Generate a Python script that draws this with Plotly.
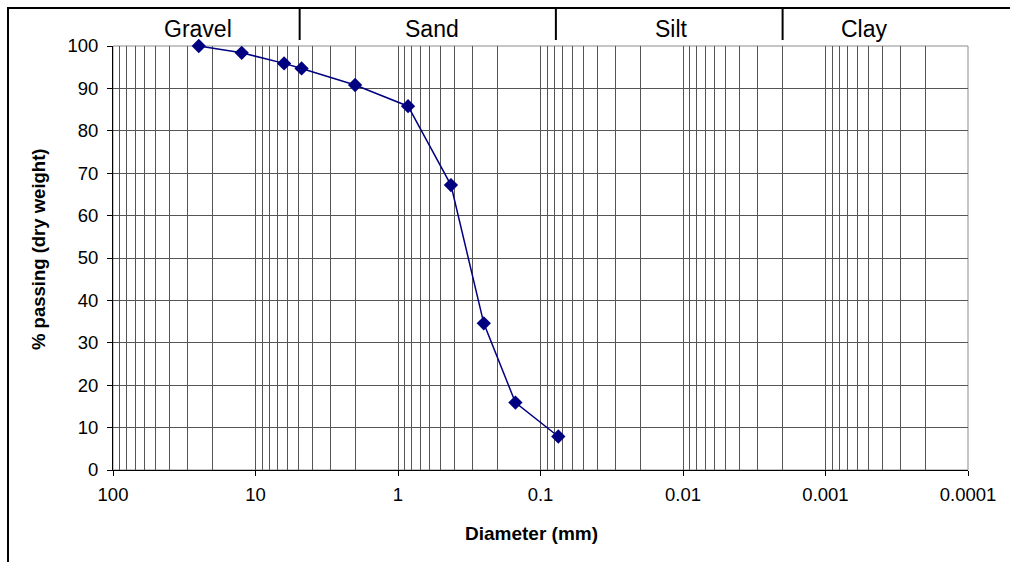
import math
import plotly.graph_objects as go

# ---- data ----
diameter_mm = [25, 12.5, 6.3, 4.75, 2.0, 0.85, 0.425, 0.25, 0.15, 0.075]
percent_passing = [100, 98.4, 95.9, 94.7, 90.8, 85.8, 67.2, 34.6, 15.9, 7.9]
x_tick_vals = [100, 10, 1, 0.1, 0.01, 0.001, 0.0001]
x_tick_text = ["100", "10", "1", "0.1", "0.01", "0.001", "0.0001"]
y_tick_vals = [0, 10, 20, 30, 40, 50, 60, 70, 80, 90, 100]
soil_classes = ["Gravel", "Sand", "Silt", "Clay"]
class_boundaries_mm = [4.9, 0.078, 0.002]

# ---- layout geometry (pixels) ----
W, H = 1010, 562
L, R, T, B = 113, 968, 46, 470
FONT = "Liberation Sans, Arial, sans-serif"
X_MAX, X_MIN = 100, 0.0001


def px_x(p):
    return (p - L) / (R - L)


def px_y(p):
    return (B - p) / (B - T)


def data_to_paper_x(d):
    return (math.log10(X_MAX) - math.log10(d)) / (math.log10(X_MAX) - math.log10(X_MIN))


fig = go.Figure()
fig.add_trace(go.Scatter(
    x=diameter_mm, y=percent_passing, mode="lines+markers",
    line=dict(color="#000080", width=1.5),
    marker=dict(symbol="diamond", size=11, color="#000080"),
    showlegend=False, cliponaxis=False,
))

shapes = []
# plot-area border (grey top/right)
shapes.append(dict(type="rect", xref="paper", yref="paper", x0=0, x1=1, y0=0, y1=1,
                   line=dict(color="#8c8c8c", width=1), layer="below"))
# outer frame: top and left lines
shapes.append(dict(type="line", xref="paper", yref="paper",
                   x0=px_x(8), x1=px_x(1012), y0=px_y(8), y1=px_y(8),
                   line=dict(color="black", width=2)))
shapes.append(dict(type="line", xref="paper", yref="paper",
                   x0=px_x(8), x1=px_x(8), y0=px_y(7), y1=px_y(564),
                   line=dict(color="black", width=2)))
# class dividers
for b in class_boundaries_mm:
    xp = data_to_paper_x(b)
    shapes.append(dict(type="line", xref="paper", yref="paper",
                       x0=xp, x1=xp, y0=px_y(8), y1=px_y(40),
                       line=dict(color="black", width=2)))

annotations = []
label_px = [198, 432, 671, 864]
for name, p in zip(soil_classes, label_px):
    annotations.append(dict(text=name, xref="paper", yref="paper", x=px_x(p), y=px_y(29),
                            xanchor="center", yanchor="middle", showarrow=False,
                            font=dict(family=FONT, size=23, color="black")))
annotations.append(dict(text="<b>% passing (dry weight)</b>", xref="paper", yref="paper",
                        x=px_x(38), y=px_y(250), textangle=-90, xanchor="center",
                        yanchor="middle", showarrow=False,
                        font=dict(family=FONT, size=18.5, color="black")))
annotations.append(dict(text="<b>Diameter (mm)</b>", xref="paper", yref="paper",
                        x=px_x(531), y=px_y(533), xanchor="center", yanchor="middle",
                        showarrow=False, font=dict(family=FONT, size=19, color="black")))

fig.update_layout(
    width=W, height=H,
    margin=dict(l=L, r=W - R, t=T, b=H - B, pad=0),
    paper_bgcolor="white", plot_bgcolor="white",
    font=dict(family=FONT, size=18.5, color="black"),
    shapes=shapes, annotations=annotations,
    xaxis=dict(
        type="log", range=[math.log10(X_MAX), math.log10(X_MIN)],
        tickvals=x_tick_vals, ticktext=x_tick_text,
        showgrid=True, gridcolor="#555555", gridwidth=1,
        minor=dict(dtick="D1", showgrid=True, gridcolor="#555555", gridwidth=1, ticks=""),
        showline=True, linecolor="black", linewidth=1,
        ticks="outside", ticklen=5, tickcolor="black",
        ticklabelstandoff=3,
        zeroline=False,
    ),
    yaxis=dict(
        range=[0, 100], tickvals=y_tick_vals,
        showgrid=True, gridcolor="#555555", gridwidth=1,
        showline=True, linecolor="black", linewidth=1,
        ticks="outside", ticklen=5, tickcolor="black",
        ticklabelstandoff=5,
        zeroline=False,
    ),
)

fig.write_html("out.html")
